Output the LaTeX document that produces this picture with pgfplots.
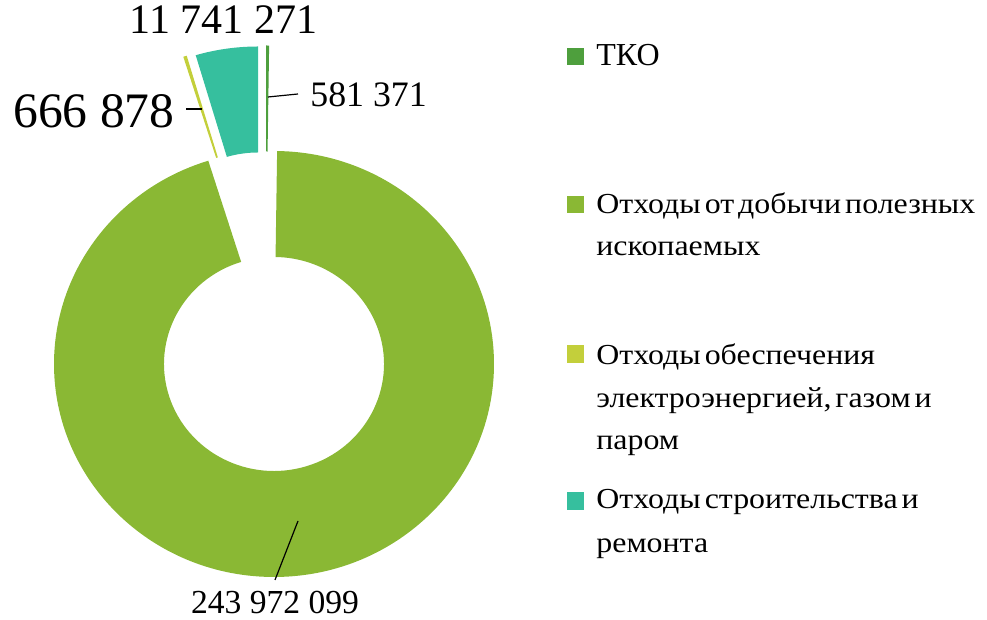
\documentclass[border=0pt]{standalone}
\usepackage{fontspec}
\setmainfont{Liberation Serif}
\newfontfamily\legfont[FakeStretch=1.1, WordSpace=0.5]{Liberation Serif}
\usepackage{pgfplots}
\pgfplotsset{compat=1.18}
\definecolor{cTKO}{HTML}{4E9F3D}
\definecolor{cMin}{HTML}{8AB834}
\definecolor{cEn}{HTML}{C3CF3B}
\definecolor{cCon}{HTML}{36BF9E}
% data
\def\vTKO{581371}
\def\vMin{243972099}
\def\vEn{666878}
\def\vCon{11741271}
\edef\vTot{\fpeval{\vTKO+\vMin+\vEn+\vCon}}
\edef\aA{90}
\edef\aB{\fpeval{round(90-360*\vTKO/\vTot,4)}}
\edef\aC{\fpeval{round(\aB-360*\vMin/\vTot,4)}}
\edef\aD{\fpeval{round(\aC-360*\vEn/\vTot,4)}}
\edef\aE{\fpeval{round(\aD-360*\vCon/\vTot,4)}}
\newcommand{\slice}[5]{%
 \fill[#5] (axis cs:{#1+220*cos(#3)},{#2+213*sin(#3)}) arc[start angle=#3, end angle=#4, x radius=110pt, y radius=106.5pt]
 -- (axis cs:{#1+110*cos(#4)},{#2+107*sin(#4)}) arc[start angle=#4, end angle=#3, x radius=55pt, y radius=53.5pt] -- cycle;}
\begin{document}
\begin{tikzpicture}
\begin{axis}[x=0.5pt, y=0.5pt, xmin=0, xmax=987, ymin=0, ymax=620, hide axis, clip=false]
\path (axis cs:0,0) rectangle (axis cs:987,620);
% slices
\slice{274}{256}{\aB}{\aC}{cMin}
\slice{266}{361.5}{\aA}{\aB}{cTKO}
\slice{249}{360}{\aC}{\aD}{cEn}
\slice{258}{360.5}{\aD}{\aE}{cCon}
% leader lines
\draw[black, line width=0.6pt] (axis cs:268,523) -- (axis cs:298,526);
\draw[black, line width=0.6pt] (axis cs:186,511) -- (axis cs:202,511);
\draw[black, line width=0.6pt] (axis cs:298,99) -- (axis cs:275,40);
% data labels
\node[anchor=base, inner sep=0, font=\fontsize{21}{24}\selectfont] at (axis cs:223.5,586) {11 741 271};
\node[anchor=base east, inner sep=0, font=\fontsize{24.8}{28}\selectfont] at (axis cs:175,492) {666 878};
\node[anchor=base west, inner sep=0, font=\fontsize{17.9}{21}\selectfont] at (axis cs:310,513) {581 371};
\node[anchor=base, inner sep=0, font=\fontsize{16.8}{20}\selectfont] at (axis cs:275,6) {243 972 099};
% legend
\fill[cTKO] (axis cs:566.5,555) rectangle (axis cs:583.5,572);
\fill[cMin] (axis cs:566.5,407) rectangle (axis cs:583.5,424);
\fill[cEn] (axis cs:566.5,257) rectangle (axis cs:583.5,275);
\fill[cCon] (axis cs:566.5,110) rectangle (axis cs:583.5,128);
\begin{scope}[every node/.style={anchor=base west, inner sep=0, font=\legfont\fontsize{14.5}{21}\selectfont}]
\node[font=\fontsize{16}{21}\selectfont] at (axis cs:596,554) {ТКО};
\node at (axis cs:596,406) {Отходы от добычи полезных};
\node at (axis cs:596,364) {ископаемых};
\node at (axis cs:596,255) {Отходы обеспечения};
\node at (axis cs:596,212) {электроэнергией, газом и};
\node at (axis cs:596,170) {паром};
\node at (axis cs:596,111) {Отходы строительства и};
\node at (axis cs:596,67) {ремонта};
\end{scope}
\end{axis}
\end{tikzpicture}
\end{document}
